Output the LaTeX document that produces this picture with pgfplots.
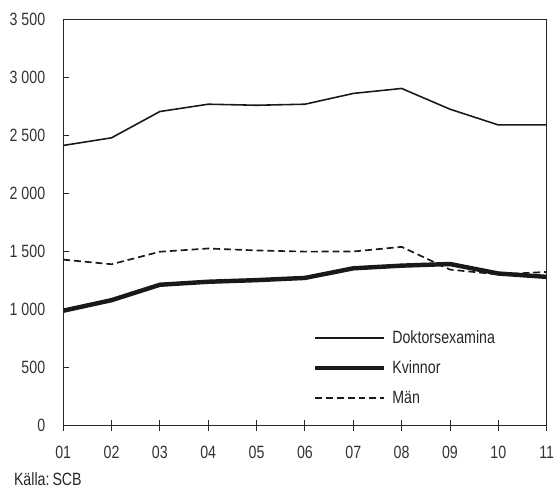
\documentclass[border=0pt]{standalone}
\usepackage{pgfplots}
\pgfplotsset{compat=1.18}
\usepackage{fontspec}
\setmainfont[FakeStretch=0.8]{Liberation Sans}
\begin{document}
\fontsize{18}{21}\selectfont
\begin{tikzpicture}
\begin{axis}[
  scale only axis,
  width=490pt, height=411pt,
  xmin=1, xmax=11, ymin=0, ymax=3500,
  xtick={1,...,11},
  xticklabels={01,02,03,04,05,06,07,08,09,10,11},
  ytick={0,500,...,3500},
  /pgf/number format/assume math mode=true,
  /pgf/number format/.cd, 1000 sep={\ }, /pgfplots/.cd,
  scaled y ticks=false,
  axis line style={line width=1pt, black!85},
  tick style={line width=1pt, black!85},
  xtick pos=bottom, ytick pos=left,
  xtick align=center,
  ytick align=inside,
  xtick style={/pgfplots/major tick length=11pt},
  ytick style={/pgfplots/major tick length=6pt},
  ticklabel style={font=\fontsize{18}{21}\selectfont, text=black!80},
  yticklabel style={xshift=-12pt},
  xticklabel style={yshift=-13pt},
  legend style={draw=none, fill=none, at={(0.516,0.24)}, anchor=north west,
    font=\fontsize{18}{21}\selectfont, row sep=11pt, inner sep=0pt,
    legend cell align=left, nodes={inner sep=2pt, text=black!85}},
  legend image code/.code={\draw[#1] (0pt,0pt) -- (70pt,0pt); \path (74pt,0pt);},
]
\addplot[black!90, line width=1.6pt] coordinates {
(1,2415) (2,2481) (3,2708) (4,2771) (5,2762) (6,2771) (7,2864) (8,2907) (9,2728) (10,2592) (11,2592)};
\addlegendentry{Doktorsexamina}
\addplot[black!90, line width=4.5pt] coordinates {
(1,989) (2,1080) (3,1213) (4,1239) (5,1253) (6,1272) (7,1355) (8,1378) (9,1392) (10,1310) (11,1281)};
\addlegendentry{Kvinnor}
\addplot[black!90, line width=1.7pt, dash pattern=on 7pt off 4pt] coordinates {
(1,1430) (2,1390) (3,1498) (4,1526) (5,1509) (6,1499) (7,1500) (8,1540) (9,1344) (10,1302) (11,1324)};
\addlegendentry{Män}
\end{axis}
\node[anchor=west, text=black!85, inner sep=0pt] at (-50pt,-55pt) {Källa:\,SCB};
\path[use as bounding box] (-64pt,-65pt) rectangle (496pt,431pt);
\end{tikzpicture}
\end{document}
